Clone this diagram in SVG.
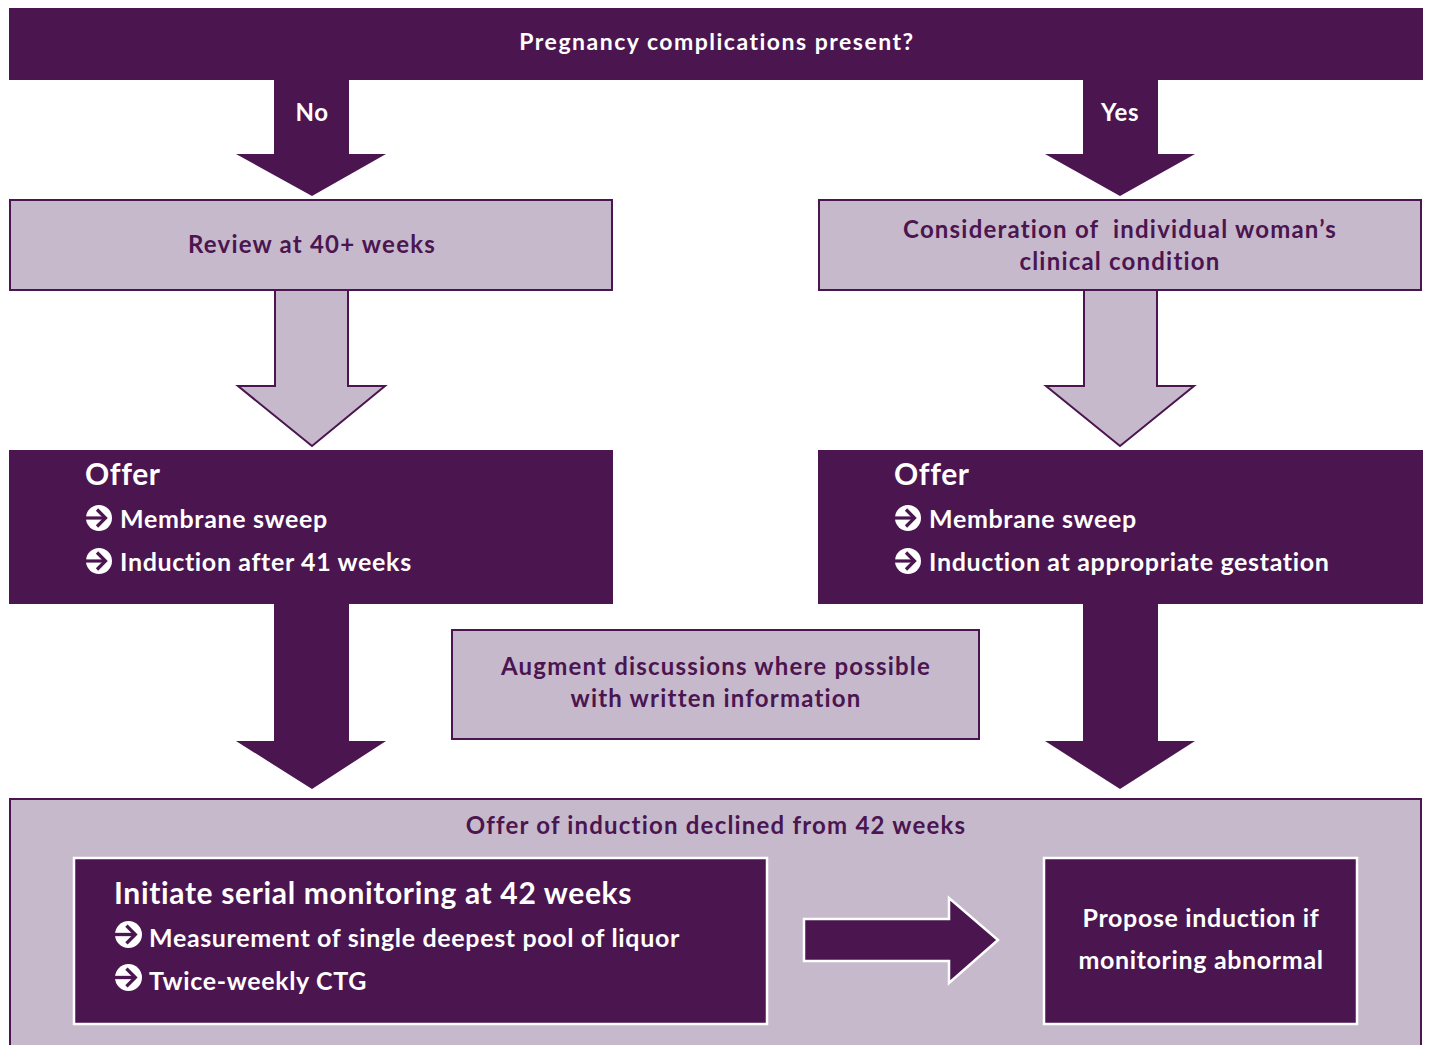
<svg xmlns="http://www.w3.org/2000/svg" width="1430" height="1045" viewBox="0 0 1430 1045">
<style>
.dark{fill:#4b1550}
.light{fill:#c7b9cc;stroke:#4b1550;stroke-width:2}
.wb{fill:#4b1550;stroke:#ffffff;stroke-width:2.5}
.t{font-family:Lato,"Liberation Sans",sans-serif;font-weight:bold;white-space:pre}
.w{fill:#ffffff;letter-spacing:0.65px}
.p{fill:#4b1550;letter-spacing:1.2px}
</style>
<defs>
<symbol id="bullet" viewBox="0 0 26 26">
<circle cx="13" cy="13" r="13" fill="#ffffff"/>
<path d="M0 13 H19" stroke="#4b1550" stroke-width="3.2" fill="none"/>
<path d="M11 4.5 L19.5 13 L11 21.5" stroke="#4b1550" stroke-width="3.2" fill="none"/>
</symbol>
</defs>
<rect width="1430" height="1045" fill="#ffffff"/>

<g id="top">
<rect class="dark" x="9" y="8" width="1414" height="72"/>
<text class="t w" x="717" y="50" font-size="23" text-anchor="middle" style="letter-spacing:1.5px">Pregnancy complications present?</text>
</g>

<g id="review">
<rect class="light" x="10" y="200" width="602" height="90"/>
<text class="t p" x="312" y="253" font-size="24" text-anchor="middle">Review at 40+ weeks</text>
</g>

<g id="consideration">
<rect class="light" x="819" y="200" width="602" height="90"/>
<text class="t p" x="1120" y="238" font-size="24" text-anchor="middle">Consideration of  individual woman’s</text>
<text class="t p" x="1120" y="270" font-size="24" text-anchor="middle">clinical condition</text>
</g>

<g id="offer-left">
<rect class="dark" x="9" y="450" width="604" height="154"/>
<text class="t w" x="85" y="485" font-size="30">Offer</text>
<use href="#bullet" x="86" y="505" width="26" height="26"/>
<text class="t w" x="120" y="528" font-size="25">Membrane sweep</text>
<use href="#bullet" x="86" y="548" width="26" height="26"/>
<text class="t w" x="120" y="571" font-size="25">Induction after 41 weeks</text>
</g>

<g id="offer-right">
<rect class="dark" x="818" y="450" width="605" height="154"/>
<text class="t w" x="894" y="485" font-size="30">Offer</text>
<use href="#bullet" x="895" y="505" width="26" height="26"/>
<text class="t w" x="929" y="528" font-size="25">Membrane sweep</text>
<use href="#bullet" x="895" y="548" width="26" height="26"/>
<text class="t w" x="929" y="571" font-size="25">Induction at appropriate gestation</text>
</g>

<g id="augment">
<rect class="light" x="452" y="630" width="527" height="109"/>
<text class="t p" x="716" y="675" font-size="24" text-anchor="middle">Augment discussions where possible</text>
<text class="t p" x="716" y="707" font-size="24" text-anchor="middle">with written information</text>
</g>

<g id="declined">
<rect class="light" x="10" y="799" width="1411" height="260"/>
<text class="t p" x="716" y="834" font-size="24" text-anchor="middle">Offer of induction declined from 42 weeks</text>
</g>

<g id="monitoring">
<rect class="wb" x="74" y="858" width="693" height="166"/>
<text class="t w" x="114" y="904" font-size="30">Initiate serial monitoring at 42 weeks</text>
<use href="#bullet" x="115" y="921" width="27" height="27"/>
<text class="t w" x="149" y="947" font-size="25">Measurement of single deepest pool of liquor</text>
<use href="#bullet" x="115" y="964" width="27" height="27"/>
<text class="t w" x="149" y="990" font-size="25">Twice-weekly CTG</text>
</g>

<g id="propose">
<rect class="wb" x="1044" y="858" width="313" height="166"/>
<text class="t w" x="1201" y="927" font-size="25" text-anchor="middle">Propose induction if</text>
<text class="t w" x="1201" y="969" font-size="25" text-anchor="middle">monitoring abnormal</text>
</g>

<g id="connectors">
<path class="dark" d="M274 78 H349 V154 H386 L312 196 L236 154 H274 Z"/>
<text class="t w" x="312" y="121" font-size="24" text-anchor="middle">No</text>
<path class="dark" d="M1083 78 H1158 V154 H1195 L1120 196 L1045 154 H1083 Z"/>
<text class="t w" x="1120" y="121" font-size="24" text-anchor="middle">Yes</text>
<path class="light" d="M275 291 V386 H238 L312 446 L385 386 H348 V291"/>
<path class="light" d="M1084 291 V386 H1046 L1120 446 L1194 386 H1157 V291"/>
<path class="dark" d="M274 603 H349 V741 H386 L312 789 L236 741 H274 Z"/>
<path class="dark" d="M1083 603 H1158 V741 H1195 L1120 789 L1045 741 H1083 Z"/>
<path class="wb" d="M804 919 H949 V898 L998 940 L949 983 V961 H804 Z"/>
</g>
</svg>
